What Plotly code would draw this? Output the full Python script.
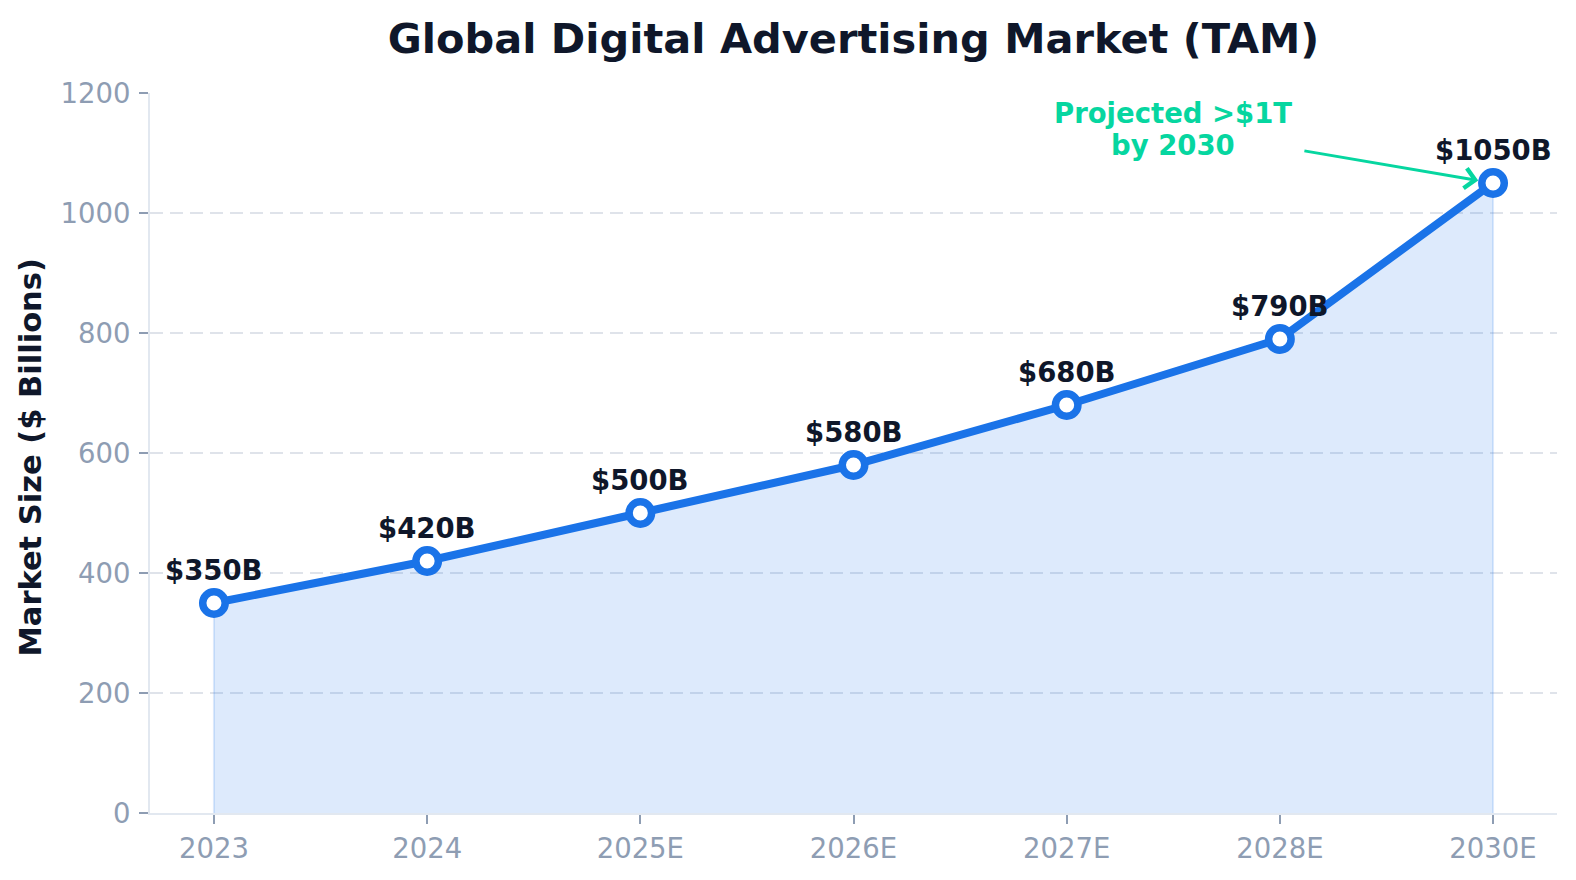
import plotly.graph_objects as go

years = ["2023", "2024", "2025E", "2026E", "2027E", "2028E", "2030E"]
market_size = [350, 420, 500, 580, 680, 790, 1050]
value_labels = [f"${v}B" for v in market_size]
y_ticks = [0, 200, 400, 600, 800, 1000, 1200]
callout_lines = ["Projected >$1T", "by 2030"]

BLUE = "#1a73e8"
DARK = "#0f172a"
TICK = "#8e9db3"
TEAL = "#06d6a0"
FONT = "DejaVu Sans"

fig = go.Figure()

# shaded area under the line (closed polygon built from the data)
fig.add_trace(go.Scatter(
    x=[years[0]] + years + [years[-1]],
    y=[0] + market_size + [0],
    mode="lines",
    fill="toself",
    fillcolor="rgba(26,115,232,0.15)",
    line=dict(color="rgba(26,115,232,0.15)", width=2),
    hoverinfo="skip",
    showlegend=False,
))

fig.add_trace(go.Scatter(
    x=years,
    y=market_size,
    mode="lines+markers",
    line=dict(color=BLUE, width=8),
    marker=dict(size=22.5, color="white", line=dict(color=BLUE, width=7.5)),
    showlegend=False,
))

annotations = []
for i, (v, t) in enumerate(zip(market_size, value_labels)):
    annotations.append(dict(
        x=i, y=v, xref="x", yref="y", text=f"<b>{t}</b>",
        showarrow=False, xanchor="center", yanchor="bottom", yshift=15,
        font=dict(family=FONT, size=27.5, color=DARK),
    ))

last = len(years) - 1
# callout arrow
annotations.append(dict(
    x=last, y=market_size[-1], xref="x", yref="y",
    ax=5.108, ay=1104, axref="x", ayref="y",
    text="", showarrow=True, arrowhead=4, arrowsize=1.3, arrowwidth=3,
    arrowcolor=TEAL, standoff=15,
))
for line_text, ly in zip(callout_lines, [1167, 1114]):
    annotations.append(dict(
        x=4.5, y=ly, xref="x", yref="y",
        text=f"<b>{line_text}</b>", showarrow=False,
        xanchor="center", yanchor="middle", align="center",
        font=dict(family=FONT, size=27.5, color=TEAL),
    ))

# y-axis title
annotations.append(dict(
    x=-0.0846, y=0.4937, xref="paper", yref="paper",
    text="<b>Market Size ($ Billions)</b>", textangle=-90, showarrow=False,
    xanchor="center", yanchor="middle",
    font=dict(family=FONT, size=30.5, color=DARK),
))

fig.update_layout(
    width=1576, height=880,
    margin=dict(l=150, r=19, t=93, b=67),
    paper_bgcolor="white", plot_bgcolor="white",
    font=dict(family=FONT),
    title=dict(
        text="<b>Global Digital Advertising Market (TAM)</b>",
        x=0.5, xref="paper", xanchor="center",
        y=1 - 38.8 / 880, yref="container", yanchor="middle",
        font=dict(family=FONT, size=41.5, color=DARK),
    ),
    annotations=annotations,
)

fig.update_xaxes(
    type="category", categoryorder="array", categoryarray=years,
    range=[-0.3, 6.3],
    showgrid=False, zeroline=False,
    showline=True, linecolor="#e2e8f0", linewidth=2,
    ticks="outside", ticklen=9, tickwidth=2, tickcolor=TICK,
    tickfont=dict(family=FONT, size=27.5, color=TICK),
    ticklabelstandoff=1,
)
fig.update_yaxes(
    range=[0, 1200], tickvals=y_ticks,
    showgrid=True, gridcolor="rgba(148,163,184,0.3)", gridwidth=1.5,
    griddash="13px,7px",
    zeroline=False,
    showline=True, linecolor="#e2e8f0", linewidth=2,
    ticks="outside", ticklen=9, tickwidth=2, tickcolor=TICK,
    tickfont=dict(family=FONT, size=27.5, color=TICK),
    ticklabelstandoff=3,
)

fig.write_html("out.html")
